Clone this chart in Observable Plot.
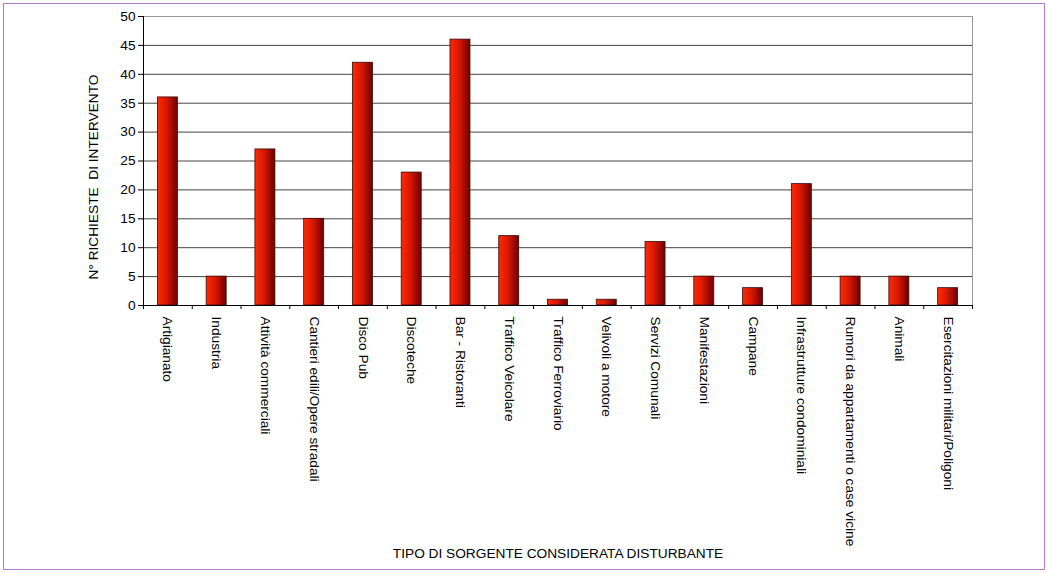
<!DOCTYPE html>
<html><head><meta charset="utf-8">
<script src="https://cdn.jsdelivr.net/npm/d3@7"></script>
<script src="https://cdn.jsdelivr.net/npm/@observablehq/plot@0.6"></script>
<style>
body{margin:0;background:#fff}
#wrap{position:relative;width:1048px;height:573px;overflow:hidden}
#border{position:absolute;left:3px;top:3px;width:1040px;height:565px;border:1px solid #b07cc6;pointer-events:none}
svg{display:block}
</style>
</head><body><div id="wrap"><div id="border"></div></div>
<script>
const categories = ["Artigianato","Industria","Attività commerciali","Cantieri edili/Opere stradali","Disco Pub","Discoteche","Bar - Ristoranti","Traffico Veicolare","Traffico Ferroviario","Velivoli a motore","Servizi Comunali","Manifestazioni","Campane","Infrastrutture condominiali","Rumori da appartamenti o case vicine","Animali","Esercitazioni militari/Poligoni"];
const values = [36,5,27,15,42,23,46,12,1,1,11,5,3,21,5,5,3];
const yTicks = [0,5,10,15,20,25,30,35,40,45,50];
const yLabel = "N° RICHIESTE  DI INTERVENTO";
const xLabel = "TIPO DI SORGENTE CONSIDERATA DISTURBANTE";

const data = categories.map((c,i)=>({cat:c, value:values[i]}));
const W=1048,H=573,mL=143,mR=76,mT=16,mB=268;
const step=(W-mL-mR)/categories.length;
const fs=13.7;

const svg = Plot.plot({
  width:W, height:H, marginLeft:mL, marginRight:mR, marginTop:mT, marginBottom:mB,
  style:{fontFamily:"'Liberation Sans', Arial, sans-serif", fontSize:fs+"px", color:"#000", background:"transparent"},
  x:{domain:categories, paddingInner:0.59, paddingOuter:0.295, round:false, label:null},
  y:{domain:[0,50], label:null},
  marks:[
    Plot.gridY(yTicks,{stroke:"#444",strokeOpacity:1}),
    Plot.frame({stroke:"#999"}),
    Plot.barY(data,{x:"cat",y:"value",fill:"url(#barGrad)",stroke:"#3a0a0a",strokeWidth:0.8}),
    Plot.ruleY([0],{stroke:"#000"}),
    Plot.ruleX([categories[0]],{dx:-step/2,stroke:"#000",insetBottom:-4}),
    Plot.axisY({ticks:yTicks,tickSize:5,tickPadding:3,label:null,fontSize:fs}),
    Plot.axisX({tickSize:0,tickRotate:90,tickPadding:11,label:null,fontSize:fs}),
    Plot.axisX({tickSize:4,text:null,dx:step/2,label:null}),
    Plot.text([yLabel],{frameAnchor:"left",dx:-50,dy:16,rotate:-90,textAnchor:"middle",text:d=>d,fontSize:fs}),
    Plot.text([xLabel],{frameAnchor:"bottom",dy:252,text:d=>d,fontSize:fs})
  ]
});

const defs = d3.select(svg).insert("defs",":first-child");
const g = defs.append("linearGradient").attr("id","barGrad").attr("x1","0").attr("x2","1").attr("y1","0").attr("y2","0");
g.append("stop").attr("offset","0%").attr("stop-color","#ff2a00");
g.append("stop").attr("offset","45%").attr("stop-color","#d81800");
g.append("stop").attr("offset","100%").attr("stop-color","#6e0000");

document.getElementById("wrap").appendChild(svg);
</script>
</body></html>
